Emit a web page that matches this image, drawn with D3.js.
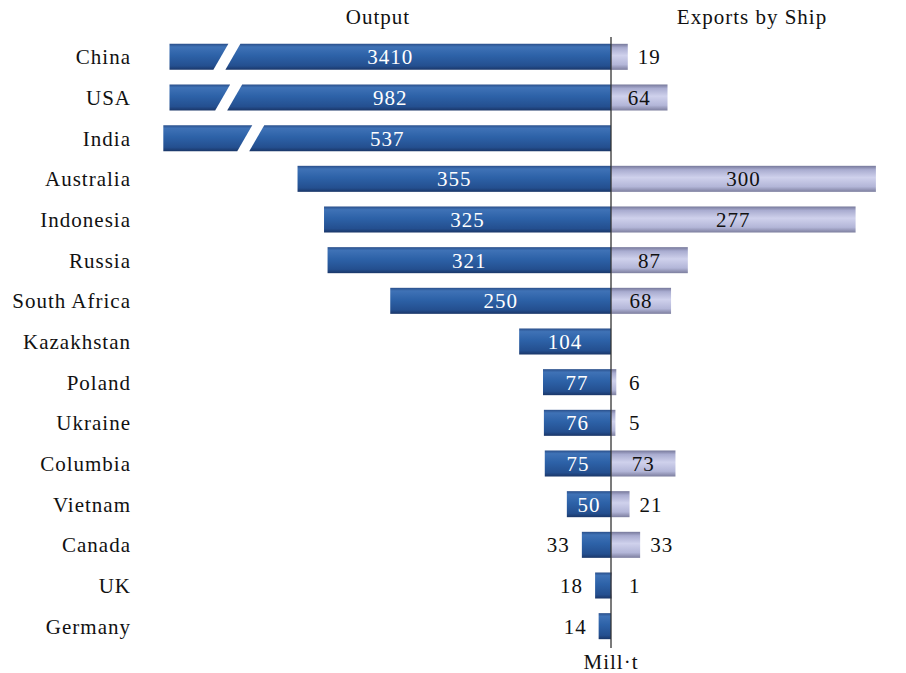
<!DOCTYPE html>
<html>
<head>
<meta charset="utf-8">
<script src="https://cdn.jsdelivr.net/npm/d3@7"></script>
<style>
  body { margin: 0; background: #fff; }
  text { font-family: "Liberation Serif", "Times New Roman", serif; }
</style>
</head>
<body>
<svg></svg>
<script>
const countries = ['China', 'USA', 'India', 'Australia', 'Indonesia', 'Russia', 'South Africa',
  'Kazakhstan', 'Poland', 'Ukraine', 'Columbia', 'Vietnam', 'Canada', 'UK', 'Germany'];
const output = [3410, 982, 537, 355, 325, 321, 250, 104, 77, 76, 75, 50, 33, 18, 14];
const exportsShip = [19, 64, null, 300, 277, 87, 68, null, 6, 5, 73, 21, 33, 1, null];
// broken bars: drawn length and break position (in Mill.t along the axis)
const brokenShown = { China: 500, USA: 500, India: 507 };
const brokenAt = { China: 435, USA: 433, India: 408 };
const headers = ['Output', 'Exports by Ship'];
const unitLabel = 'Mill\u00b7t';

const width = 906;
const height = 673;
const axisX = 611;
const pxPerUnit = 0.883;
const fontSize = 21;
const spacing = 1;

const svg = d3.select('svg').attr('width', width).attr('height', height);

const xLeft = d3.scaleLinear().domain([0, 510]).range([axisX, axisX - 510 * pxPerUnit]);
const xRight = d3.scaleLinear().domain([0, 320]).range([axisX, axisX + 320 * pxPerUnit]);
const y = d3.scaleBand().domain(countries).range([36.5, 646.5]).paddingInner(0.36).paddingOuter(0.18);

const defs = svg.append('defs');
const gOut = defs.append('linearGradient').attr('id', 'gOut').attr('x1', 0).attr('x2', 0).attr('y1', 0).attr('y2', 1);
[[0, '#2a4f8a'], [0.12, '#3f72b6'], [0.45, '#2d62a8'], [0.85, '#244f8f'], [1, '#1a3668']]
  .forEach(s => gOut.append('stop').attr('offset', s[0]).attr('stop-color', s[1]));
const gExp = defs.append('linearGradient').attr('id', 'gExp').attr('x1', 0).attr('x2', 0).attr('y1', 0).attr('y2', 1);
[[0, '#76789a'], [0.15, '#a9acd0'], [0.45, '#cfd1ec'], [0.8, '#b3b6d8'], [1, '#7c7e9e']]
  .forEach(s => gExp.append('stop').attr('offset', s[0]).attr('stop-color', s[1]));

const bh = y.bandwidth();

const label = (x, yy, anchor, fill, txt) => svg.append('text')
  .attr('x', x).attr('y', yy)
  .attr('dy', '0.35em')
  .attr('text-anchor', anchor)
  .attr('font-size', fontSize)
  .attr('letter-spacing', spacing)
  .attr('fill', fill)
  .text(txt);

// output bars
countries.forEach((c, i) => {
  const v = output[i];
  const shown = brokenShown[c] || v;
  const x0 = xLeft(shown);
  const top = y(c), bot = y(c) + bh;
  if (brokenAt[c]) {
    const bx = xLeft(brokenAt[c]);
    const slant = 7.5, gap = 6;
    svg.append('path')
      .attr('d', `M${x0},${top}H${bx - gap + slant}L${bx - gap - slant},${bot}H${x0}Z`)
      .attr('fill', 'url(#gOut)');
    svg.append('path')
      .attr('d', `M${bx + gap + slant},${top}H${axisX}V${bot}H${bx + gap - slant}Z`)
      .attr('fill', 'url(#gOut)');
  } else {
    svg.append('rect')
      .attr('x', x0).attr('y', top)
      .attr('width', axisX - x0).attr('height', bh)
      .attr('fill', 'url(#gOut)');
  }
});

// export bars
countries.forEach((c, i) => {
  const v = exportsShip[i];
  if (!v) return;
  svg.append('rect')
    .attr('x', axisX).attr('y', y(c))
    .attr('width', xRight(v) - axisX).attr('height', bh)
    .attr('fill', 'url(#gExp)');
});

// axis line
svg.append('line')
  .attr('x1', axisX).attr('x2', axisX)
  .attr('y1', 37).attr('y2', 648)
  .attr('stroke', '#333').attr('stroke-width', 1.3);

// category labels
countries.forEach(c => label(131, y(c) + bh / 2, 'end', '#111', c));

// output value labels
countries.forEach((c, i) => {
  const v = output[i];
  const shown = brokenShown[c] || v;
  const len = axisX - xLeft(shown);
  const inside = len > 40;
  label(inside ? (xLeft(shown) + axisX) / 2 : xLeft(shown) - 12, y(c) + bh / 2,
    inside ? 'middle' : 'end', inside ? '#fff' : '#111', v);
});

// export value labels
countries.forEach((c, i) => {
  const v = exportsShip[i];
  if (!v) return;
  const len = xRight(v) - axisX;
  const inside = len > 40;
  label(inside ? (axisX + xRight(v)) / 2 : Math.max(xRight(v), axisX + 8) + 10, y(c) + bh / 2,
    inside ? 'middle' : 'start', '#111', v);
});

// headers
label(378, 17, 'middle', '#111', headers[0]);
label(752, 17, 'middle', '#111', headers[1]);
label(axisX, 662, 'middle', '#111', unitLabel);
</script>
</body>
</html>
